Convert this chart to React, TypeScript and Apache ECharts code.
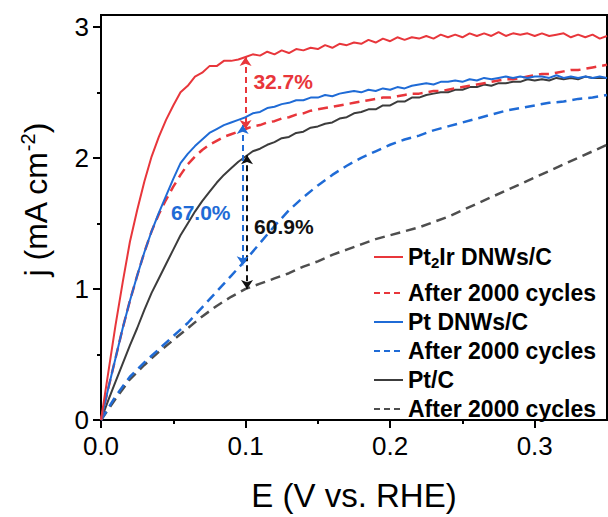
import React, { useEffect, useRef } from "react";
import * as echarts from "echarts";

const FONT = "Liberation Sans, Arial, Helvetica, sans-serif";

// Potential grid (V vs. RHE) for the fresh curves and the Pt2Ir aged curve
const eFine = [
  0, 0.005, 0.01, 0.015, 0.02, 0.025, 0.03, 0.035, 0.04, 0.045, 0.05, 0.055, 0.06, 0.065, 0.07,
  0.075, 0.08, 0.085, 0.09, 0.095, 0.1, 0.105, 0.11, 0.115, 0.12, 0.125, 0.13, 0.135, 0.14, 0.145,
  0.15, 0.155, 0.16, 0.165, 0.17, 0.175, 0.18, 0.185, 0.19, 0.195, 0.2, 0.205, 0.21, 0.215, 0.22,
  0.225, 0.23, 0.235, 0.24, 0.245, 0.25, 0.255, 0.26, 0.265, 0.27, 0.275, 0.28, 0.285, 0.29, 0.295,
  0.3, 0.305, 0.31, 0.315, 0.32, 0.325, 0.33, 0.335, 0.34, 0.345, 0.35,
];
// Coarser grid for the two smooth aged curves
const eCoarse = [
  0, 0.01, 0.02, 0.03, 0.04, 0.05, 0.06, 0.07, 0.08, 0.09, 0.1, 0.11, 0.12, 0.13, 0.14, 0.15, 0.16,
  0.17, 0.18, 0.19, 0.2, 0.21, 0.22, 0.23, 0.24, 0.25, 0.26, 0.27, 0.28, 0.29, 0.3, 0.31, 0.32, 0.33,
  0.34, 0.35,
];

const pt2IrFresh = [
  0, 0.36, 0.72, 1.05, 1.36, 1.6, 1.82, 2.01, 2.16, 2.29, 2.4, 2.5, 2.55, 2.62, 2.65, 2.7, 2.7, 2.74,
  2.74, 2.75, 2.77,
  2.79, 2.78, 2.81, 2.79, 2.82, 2.8, 2.83, 2.82, 2.84, 2.83,
  2.86, 2.84, 2.87, 2.86, 2.88, 2.87, 2.9, 2.88, 2.91, 2.89,
  2.92, 2.9, 2.92, 2.91, 2.93, 2.91, 2.94, 2.92, 2.94, 2.92,
  2.95, 2.93, 2.95, 2.93, 2.96, 2.93, 2.95, 2.94, 2.95, 2.93,
  2.95, 2.93, 2.94, 2.95, 2.92, 2.94, 2.92, 2.94, 2.91, 2.93,
];
const pt2IrAged = [
  0, 0.24, 0.47, 0.7, 0.91, 1.1, 1.28, 1.44, 1.57, 1.68, 1.78, 1.87, 1.95, 2.01, 2.06, 2.1, 2.13,
  2.16, 2.18, 2.2, 2.22,
  2.24, 2.25, 2.27, 2.28, 2.3, 2.31, 2.33, 2.34, 2.36, 2.37,
  2.38, 2.39, 2.4, 2.41, 2.42, 2.43, 2.44, 2.45, 2.46, 2.46,
  2.47, 2.48, 2.49, 2.49, 2.5, 2.51, 2.51, 2.52, 2.53, 2.54,
  2.55, 2.56, 2.57, 2.58, 2.59, 2.6, 2.6, 2.61, 2.62, 2.63,
  2.64, 2.64, 2.65, 2.66, 2.67, 2.67, 2.68, 2.69, 2.7, 2.71,
];
const ptDnwFresh = [
  0, 0.24, 0.47, 0.7, 0.91, 1.1, 1.28, 1.44, 1.58, 1.71, 1.84, 1.96, 2.03, 2.09, 2.14, 2.19, 2.22,
  2.25, 2.27, 2.29, 2.31,
  2.34, 2.35, 2.38, 2.39, 2.41, 2.42, 2.44, 2.44, 2.46, 2.46,
  2.48, 2.47, 2.49, 2.5, 2.51, 2.5, 2.52, 2.51, 2.53, 2.52,
  2.54, 2.53, 2.55, 2.56, 2.57, 2.56, 2.58, 2.58, 2.59, 2.58,
  2.6, 2.59, 2.61, 2.6, 2.61, 2.62, 2.61, 2.62, 2.61, 2.62,
  2.62, 2.61, 2.63, 2.61, 2.62, 2.61, 2.62, 2.61, 2.62, 2.61,
];
const ptDnwAged = [
  0, 0.18, 0.33, 0.44, 0.54, 0.64, 0.74, 0.86, 0.98, 1.1, 1.22, 1.35, 1.48, 1.6, 1.7, 1.79, 1.87,
  1.94, 2.0, 2.05, 2.1, 2.14, 2.17, 2.21, 2.24, 2.27, 2.3, 2.33, 2.36, 2.38, 2.4, 2.42, 2.43, 2.45,
  2.46, 2.48,
];
const ptcFresh = [
  0, 0.15, 0.29, 0.43, 0.57, 0.7, 0.84, 0.97, 1.08, 1.19, 1.3, 1.41, 1.5, 1.59, 1.67, 1.74, 1.81,
  1.87, 1.92, 1.97, 2.01,
  2.05, 2.07, 2.1, 2.12, 2.15, 2.16, 2.19, 2.2, 2.23, 2.24,
  2.26, 2.27, 2.3, 2.31, 2.34, 2.35, 2.37, 2.37, 2.4, 2.4,
  2.43, 2.43, 2.46, 2.46, 2.48, 2.49, 2.5, 2.5, 2.52, 2.52,
  2.54, 2.54, 2.56, 2.55, 2.57, 2.57, 2.58, 2.58, 2.6, 2.59,
  2.6, 2.59, 2.61, 2.6, 2.61, 2.6, 2.62, 2.61, 2.61, 2.61,
];
const ptcAged = [
  0, 0.16, 0.31, 0.42, 0.52, 0.61, 0.7, 0.79, 0.87, 0.94, 1.0, 1.04, 1.08, 1.12, 1.17, 1.21, 1.26,
  1.3, 1.34, 1.38, 1.41, 1.44, 1.47, 1.51, 1.55, 1.6, 1.65, 1.7, 1.75, 1.8, 1.85, 1.9, 1.95, 2.0,
  2.05, 2.1,
];

const seriesNames = [
  "Pt2Ir DNWs/C",
  "After 2000 cycles",
  "Pt DNWs/C",
  "After 2000 cycles ",
  "Pt/C",
  "After 2000 cycles  ",
];

const xMajor = [0, 0.1, 0.2, 0.3];
const xMinor = [0.05, 0.15, 0.25];
const yMajor = [0, 1, 2, 3];
const yMinor = [0.5, 1.5, 2.5];

// Retention arrows at E = 0.1 V (fresh -> aged)
const arrowE = [0.1, 0.098, 0.101];
const arrowTop = [2.77, 2.25, 2.02];
const arrowBottom = [2.22, 1.18, 1.0];
const gapLabels = ["32.7%", "67.0%", "60.9%"];
const labelE = [0.126, 0.069, 0.1265];
const labelJ = [2.58, 1.58, 1.48];

const RED = "#E8363B";
const BLUE = "#1F6BD6";
const DARK = "#3C3C3C";
const DARK_DASH = "#4E4E4E";
const annoColors = [RED, BLUE, "#111111"];

const zip = (xs: number[], ys: number[]) => xs.map((x, i) => [x, ys[i]]);

export default function App() {
  const ref = useRef<HTMLDivElement>(null);

  useEffect(() => {
    if (!ref.current) return;
    const chart = echarts.init(ref.current, null, { renderer: "svg" });

    const dash = [10, 6];
    const makeArrow = (i: number) => ({
      silent: true,
      symbol: ["arrow", "arrow"],
      symbolSize: 9,
      lineStyle: { color: annoColors[i], width: 2, type: [6, 4] },
      label: { show: false },
      data: [[{ coord: [arrowE[i], arrowTop[i]] }, { coord: [arrowE[i], arrowBottom[i]] }]],
    });
    const makeLabel = (i: number) => ({
      silent: true,
      symbol: "circle",
      symbolSize: 1,
      itemStyle: { color: "rgba(0,0,0,0)" },
      label: {
        show: true,
        position: "inside",
        formatter: gapLabels[i],
        color: annoColors[i],
        fontSize: 21,
        fontWeight: "bold",
        fontFamily: FONT,
      },
      data: [{ coord: [labelE[i], labelJ[i]] }],
    });

    const base = { type: "line", showSymbol: false, symbol: "none", silent: true };
    const series: any[] = [
      { ...base, name: seriesNames[5], data: zip(eCoarse, ptcAged), itemStyle: { color: DARK_DASH }, lineStyle: { color: DARK_DASH, width: 2.5, type: dash }, z: 2 },
      { ...base, name: seriesNames[4], data: zip(eFine, ptcFresh), itemStyle: { color: DARK }, lineStyle: { color: DARK, width: 2 }, z: 3, markLine: makeArrow(2), markPoint: makeLabel(2) },
      { ...base, name: seriesNames[3], data: zip(eCoarse, ptDnwAged), itemStyle: { color: BLUE }, lineStyle: { color: BLUE, width: 2.5, type: dash }, z: 3 },
      { ...base, name: seriesNames[1], data: zip(eFine, pt2IrAged), itemStyle: { color: RED }, lineStyle: { color: RED, width: 2.5, type: dash }, z: 4 },
      { ...base, name: seriesNames[2], data: zip(eFine, ptDnwFresh), itemStyle: { color: BLUE }, lineStyle: { color: BLUE, width: 2 }, z: 5, markLine: makeArrow(1), markPoint: makeLabel(1) },
      { ...base, name: seriesNames[0], data: zip(eFine, pt2IrFresh), itemStyle: { color: RED }, lineStyle: { color: RED, width: 2 }, z: 5, markLine: makeArrow(0), markPoint: makeLabel(0) },
    ];

    const legendText = {
      fontSize: 23,
      fontWeight: "bold",
      fontFamily: FONT,
      color: "#000",
      lineHeight: 26,
      rich: {
        sub: {
          fontSize: 15,
          fontWeight: "bold",
          fontFamily: FONT,
          color: "#000",
          lineHeight: 15,
          verticalAlign: "bottom",
        },
      },
    };
    const legendCommon = {
      orient: "vertical",
      left: 368,
      itemWidth: 29,
      itemHeight: 14,
      selectedMode: false,
      itemStyle: { color: "rgba(0,0,0,0)", borderWidth: 0, opacity: 0 },
      textStyle: legendText,
      formatter: (name: string) =>
        name === "Pt2Ir DNWs/C" ? "Pt{sub|2}Ir DNWs/C" : name.trim(),
    };
    const isDashed = (n: string) => n.startsWith("After");

    const option: any = {
      animation: false,
      grid: {
        left: 101,
        right: 1,
        top: 15,
        bottom: 94,
        show: true,
        borderColor: "#000",
        borderWidth: 2,
        backgroundColor: "transparent",
      },
      xAxis: [
        {
          type: "value",
          min: 0,
          max: 0.35,
          interval: 0.1,
          name: "E (V vs. RHE)",
          nameLocation: "middle",
          nameGap: 59,
          nameTextStyle: { fontSize: 33, color: "#000", fontFamily: FONT },
          axisLine: { show: true, onZero: false, lineStyle: { color: "#000", width: 2 } },
          axisTick: { show: true, length: 8, customValues: xMajor, lineStyle: { color: "#000", width: 2 } },
          axisLabel: {
            customValues: xMajor,
            formatter: (v: number) => v.toFixed(1),
            fontSize: 26,
            color: "#000",
            margin: 13,
            fontFamily: FONT,
          },
          splitLine: { show: false },
        },
        {
          type: "value",
          min: 0,
          max: 0.35,
          position: "bottom",
          axisLine: { show: false },
          axisTick: { show: true, length: 4, customValues: xMinor, lineStyle: { color: "#000", width: 2 } },
          axisLabel: { show: false },
          splitLine: { show: false },
        },
      ],
      yAxis: [
        {
          type: "value",
          min: 0,
          max: 3.09,
          interval: 1,
          axisLine: { show: true, onZero: false, lineStyle: { color: "#000", width: 2 } },
          axisTick: { show: true, length: 8, customValues: yMajor, lineStyle: { color: "#000", width: 2 } },
          axisLabel: {
            customValues: yMajor,
            fontSize: 26,
            color: "#000",
            margin: 12,
            fontFamily: FONT,
          },
          splitLine: { show: false },
        },
        {
          type: "value",
          min: 0,
          max: 3.09,
          position: "left",
          axisLine: { show: false },
          axisTick: { show: true, length: 4, customValues: yMinor, lineStyle: { color: "#000", width: 2 } },
          axisLabel: { show: false },
          splitLine: { show: false },
        },
      ],
      legend: [
        {
          ...legendCommon,
          top: 239,
          data: [{ name: seriesNames[0], lineStyle: { width: 2 } }],
        },
        {
          ...legendCommon,
          top: 275,
          itemGap: 3,
          data: seriesNames.slice(1).map((n) => ({
            name: n,
            lineStyle: isDashed(n) ? { type: [6, 4], width: 2 } : { width: 2 },
          })),
        },
      ],
      graphic: [
        {
          type: "text",
          x: 36,
          y: 200,
          rotation: Math.PI / 2,
          style: {
            text: "j (mA cm{sup|-2})",
            fontSize: 32,
            fontFamily: FONT,
            fill: "#000",
            align: "center",
            verticalAlign: "middle",
            lineHeight: 36,
            rich: {
              sup: {
                fontSize: 20,
                fontFamily: FONT,
                fill: "#000",
                lineHeight: 20,
                verticalAlign: "top",
              },
            },
          },
        },
      ],
      series,
    };

    chart.setOption(option);
    return () => chart.dispose();
  }, []);

  return (
    <div
      ref={ref}
      style={{ position: "absolute", left: 0, top: 0, width: 608, height: 517, background: "#fff" }}
    />
  );
}
